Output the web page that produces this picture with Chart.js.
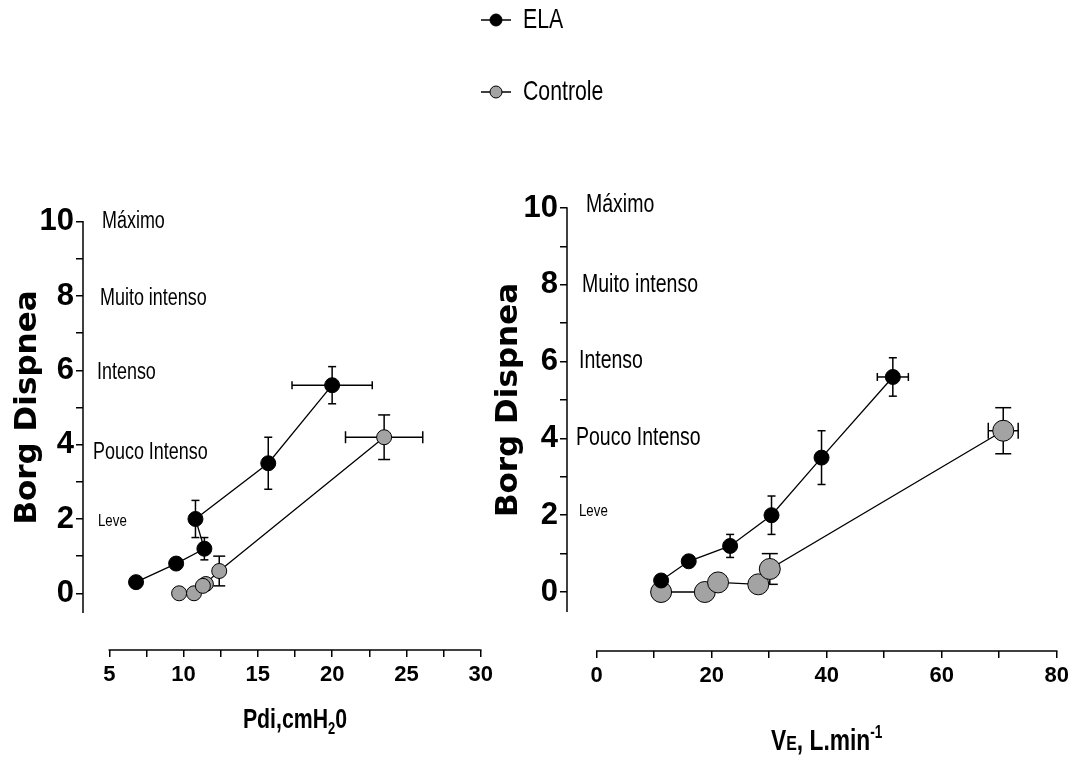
<!DOCTYPE html>
<html><head><meta charset="utf-8">
<script src="https://cdn.jsdelivr.net/npm/chart.js@4.4.1/dist/chart.umd.min.js"></script>
<style>
html,body{margin:0;padding:0;background:#fff;}
#wrap{position:relative;width:1075px;height:760px;background:#fff;}
canvas{position:absolute;left:0;top:0;}
</style></head><body>
<div id="wrap"><canvas id="c1" width="1075" height="760"></canvas><canvas id="c2" width="1075" height="760"></canvas></div>
<script>
// ---- data ----
const seriesNames = ['ELA', 'Controle'];
const borgLevels = [2, 4, 6, 8, 10];
const borgLevelNames = ['Leve', 'Pouco Intenso', 'Intenso', 'Muito intenso', 'Máximo'];
const borgTicks = [0, 2, 4, 6, 8, 10];
const pdiTicks = [5, 10, 15, 20, 25, 30];
const veTicks = [0, 20, 40, 60, 80];

const borgELA = [0.3, 0.8, 1.2, 2.0, 3.5, 5.6];
const borgELAErr = [0, 0, 0.3, 0.5, 0.7, 0.5];
const borgCtrl = [0, 0, 0.25, 0.2, 0.6, 4.2];
const borgCtrlErr = [0, 0, 0, 0, 0.4, 0.6];

const pdiELA = [6.8, 9.5, 11.4, 10.8, 15.7, 20.0];
const pdiELAErr = [0, 0, 0, 0, 0, 2.7];
const pdiCtrl = [9.7, 10.7, 11.5, 11.3, 12.4, 23.5];
const pdiCtrlErr = [0, 0, 0, 0, 0, 2.6];

const veELA = [11.2, 16.0, 23.2, 30.4, 39.1, 51.5];
const veELAErr = [0, 0, 0, 0, 0, 2.7];
const veCtrl = [11.2, 18.8, 21.1, 28.1, 30.1, 70.7];
const veCtrlErr = [0, 0, 0, 0, 0, 2.6];

// ---- styling ----
const SANS = "'Liberation Sans', Arial, sans-serif";
const GRAY = '#a3a3a3';

function withMinors(majors) {
  const out = [];
  majors.forEach((v, i) => {
    out.push({value: v});
    if (i < majors.length - 1) out.push({value: (v + majors[i + 1]) / 2});
  });
  return out;
}

function line(ctx, x1, y1, x2, y2) { ctx.beginPath(); ctx.moveTo(x1, y1); ctx.lineTo(x2, y2); ctx.stroke(); }

// condensed text: regular face squeezed horizontally (Arial Narrow look)
function narrowText(ctx, text, x, y, font, sx, baseline) {
  ctx.save();
  ctx.font = font; ctx.textAlign = 'left'; ctx.textBaseline = baseline || 'alphabetic';
  ctx.translate(x, y); ctx.scale(sx, 1);
  ctx.fillText(text, 0, 0);
  ctx.restore();
}

function drawSegments(ctx, segs, sx, cx, baseY) {
  let total = 0;
  segs.forEach(s => { ctx.font = s.font; s.w = ctx.measureText(s.t).width * sx; total += s.w; });
  let x = cx - total / 2;
  segs.forEach(s => { narrowText(ctx, s.t, x, baseY + (s.dy || 0), s.font, sx); x += s.w; });
}

const customDraw = {
  id: 'customDraw',
  beforeDatasetsDraw(chart, args, o) {
    const {ctx} = chart, x = chart.scales.x, y = chart.scales.y;
    ctx.save();
    ctx.strokeStyle = '#000'; ctx.lineWidth = 1.5;
    chart.data.datasets.forEach(ds => {
      ds.data.forEach((p, i) => {
        const px = x.getPixelForValue(p.x), py = y.getPixelForValue(p.y);
        const ey = ds.yErr[i], ex = ds.xErr[i], c = ds.capW;
        if (ey > 0) {
          const t = y.getPixelForValue(p.y + ey), b = y.getPixelForValue(p.y - ey);
          line(ctx, px, t, px, b); line(ctx, px - c, t, px + c, t); line(ctx, px - c, b, px + c, b);
        }
        if (ex > 0) {
          const l = x.getPixelForValue(p.x - ex), r = x.getPixelForValue(p.x + ex);
          line(ctx, l, py, r, py); line(ctx, l, py - c, l, py + c); line(ctx, r, py - c, r, py + c);
        }
      });
    });
    ctx.restore();
  },
  afterDraw(chart, args, o) {
    const {ctx, chartArea} = chart, x = chart.scales.x, y = chart.scales.y;
    ctx.save();
    ctx.strokeStyle = '#000'; ctx.fillStyle = '#000'; ctx.lineWidth = 1.5;
    // axis lines (offset, Prism style)
    line(ctx, chartArea.left, y.getPixelForValue(o.yAxisBottom), chartArea.left, y.getPixelForValue(10) - 0.75);
    const xt = o.xMajors;
    line(ctx, x.getPixelForValue(xt[0]) - 0.75, chartArea.bottom, x.getPixelForValue(xt[xt.length - 1]) + 0.75, chartArea.bottom);
    // Borg descriptors
    borgLevels.forEach((lv, i) => {
      const size = i === 0 ? o.annSmall : o.annSize;
      narrowText(ctx, borgLevelNames[i], chartArea.left + o.annDx[i], y.getPixelForValue(lv) + o.annDy[i], size + 'px ' + SANS, 0.78, 'middle');
    });
    // y title
    ctx.save();
    ctx.translate(o.yTitleX, y.getPixelForValue(5));
    ctx.rotate(-Math.PI / 2);
    ctx.font = "bold 31px 'DejaVu Sans', sans-serif";
    ctx.textAlign = 'center'; ctx.textBaseline = 'alphabetic';
    ctx.fillText('Borg Dispnea', 0, 0);
    ctx.restore();
    // x title
    const cx = (x.getPixelForValue(xt[0]) + x.getPixelForValue(xt[xt.length - 1])) / 2;
    drawSegments(ctx, o.xTitle, 0.76, cx, chartArea.bottom + o.xTitleDy);
    // legend
    if (o.legend) {
      chart.data.datasets.forEach((ds, i) => {
        const ly = o.legend.y[i];
        ctx.lineWidth = 1.5; ctx.strokeStyle = '#000';
        line(ctx, o.legend.x, ly, o.legend.x + 30, ly);
        ctx.beginPath(); ctx.arc(o.legend.x + 15, ly, 6, 0, Math.PI * 2);
        ctx.fillStyle = ds.pointBackgroundColor; ctx.fill();
        ctx.lineWidth = 1; ctx.stroke();
        ctx.fillStyle = '#000';
        narrowText(ctx, ds.label, o.legend.x + 42, ly, '28px ' + SANS, 0.76, 'middle');
      });
    }
    ctx.restore();
  }
};

function build(id, cfg) {
  const pts = (xs, ys) => xs.map((v, i) => ({x: v, y: ys[i]}));
  return new Chart(document.getElementById(id), {
    type: 'scatter',
    data: {datasets: [
      {label: seriesNames[0], data: pts(cfg.xELA, borgELA), xErr: cfg.xELAErr, yErr: borgELAErr, capW: 4,
       showLine: true, borderColor: '#000', borderWidth: 1.3, backgroundColor: '#000',
       pointBackgroundColor: '#000', pointBorderColor: '#000', pointBorderWidth: 1,
       pointRadius: cfg.rELA, pointHoverRadius: cfg.rELA},
      {label: seriesNames[1], data: pts(cfg.xCtrl, borgCtrl), xErr: cfg.xCtrlErr, yErr: borgCtrlErr, capW: cfg.capCtrl,
       showLine: true, borderColor: '#000', borderWidth: 1.3, backgroundColor: GRAY,
       pointBackgroundColor: GRAY, pointBorderColor: '#000', pointBorderWidth: 1,
       pointRadius: cfg.rCtrl, pointHoverRadius: cfg.rCtrl}
    ]},
    options: {
      responsive: false, animation: false, devicePixelRatio: 1,
      layout: {padding: cfg.padding},
      plugins: {legend: {display: false}, tooltip: {enabled: false},
        customDraw: {yAxisBottom: cfg.yAxisBottom, xMajors: cfg.xMajors, annSize: cfg.annSize, annSmall: cfg.annSmall,
          annDx: cfg.annDx, annDy: cfg.annDy, yTitleX: cfg.yTitleX, xTitle: cfg.xTitle, xTitleDy: cfg.xTitleDy, legend: cfg.legend}},
      scales: {
        x: {type: 'linear', min: cfg.xMin, max: cfg.xMax,
          afterBuildTicks: s => { s.ticks = withMinors(cfg.xMajors); },
          afterFit: s => { s.height = cfg.xAxisH; },
          border: {display: false},
          grid: {display: true, drawOnChartArea: false, drawTicks: true, tickLength: 7, color: '#000', lineWidth: 1.5},
          ticks: {autoSkip: false, maxRotation: 0, padding: 5, color: '#000',
            font: {family: SANS, size: 22, weight: 'bold'},
            callback: v => cfg.xMajors.includes(v) ? String(v) : ''}},
        y: {type: 'linear', min: cfg.yMin, max: 10,
          afterBuildTicks: s => { s.ticks = withMinors(borgTicks); },
          afterFit: s => { s.width = cfg.yAxisW; },
          border: {display: false},
          grid: {display: true, drawOnChartArea: false, drawTicks: true, tickLength: 7, color: '#000', lineWidth: 1.5},
          ticks: {autoSkip: false, padding: 2, color: '#000',
            font: {family: SANS, size: 31, weight: 'bold'},
            callback: v => borgTicks.includes(v) ? String(v) : ''}}
      }
    },
    plugins: [customDraw]
  });
}

build('c1', {
  xELA: pdiELA, xELAErr: pdiELAErr, xCtrl: pdiCtrl, xCtrlErr: pdiCtrlErr,
  rELA: 7.5, rCtrl: 7.5, capCtrl: 6,
  padding: {left: 0, top: 221.7, right: 594.3, bottom: 0},
  yAxisW: 83, xAxisH: 110, yMin: -1.526, yAxisBottom: -0.53,
  xMin: 3.23, xMax: 30, xMajors: pdiTicks,
  annSize: 23, annSmall: 17, annDx: [15, 10, 14, 17, 19], annDy: [2, 8, 2, 3, 0],
  yTitleX: 36,
  xTitle: [{t: 'Pdi,cmH', font: 'bold 28px ' + SANS}, {t: '2', font: 'bold 17px ' + SANS, dy: 6}, {t: '0', font: 'bold 28px ' + SANS}], xTitleDy: 78,
  legend: {x: 481, y: [20, 92]}
});

build('c2', {
  xELA: veELA, xELAErr: veELAErr, xCtrl: veCtrl, xCtrlErr: veCtrlErr,
  rELA: 7.5, rCtrl: 10.5, capCtrl: 8,
  padding: {left: 507, top: 208, right: 18.3, bottom: 0},
  yAxisW: 60, xAxisH: 109, yMin: -1.536, yAxisBottom: -0.52,
  xMin: -5.17, xMax: 80, xMajors: veTicks,
  annSize: 25, annSmall: 17, annDx: [12, 9, 12, 15, 19], annDy: [-4, 0, 0, 0, -3],
  yTitleX: 517,
  xTitle: [{t: 'V', font: 'bold 30px ' + SANS}, {t: 'E', font: 'bold 21px ' + SANS}, {t: ', L.min', font: 'bold 30px ' + SANS}, {t: '-1', font: 'bold 18px ' + SANS, dy: -12}], xTitleDy: 99,
  legend: null
});
</script>
</body></html>
